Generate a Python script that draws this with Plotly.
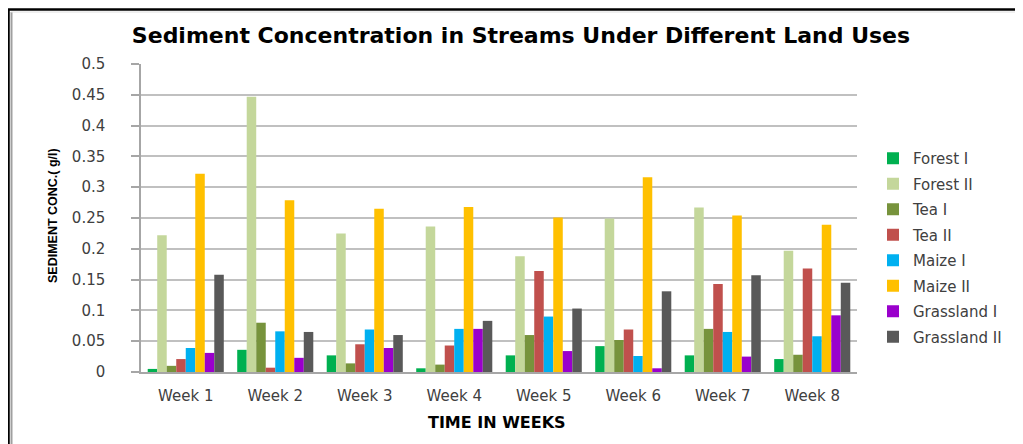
import plotly.graph_objects as go

weeks = ["Week 1", "Week 2", "Week 3", "Week 4", "Week 5", "Week 6", "Week 7", "Week 8"]
series_names = ["Forest I", "Forest II", "Tea I", "Tea II", "Maize I", "Maize II", "Grassland I", "Grassland II"]

forest_1 = [0.005, 0.036, 0.027, 0.006, 0.027, 0.042, 0.027, 0.021]
forest_2 = [0.222, 0.447, 0.225, 0.236, 0.188, 0.249, 0.267, 0.197]
tea_1 = [0.010, 0.080, 0.014, 0.012, 0.060, 0.052, 0.070, 0.028]
tea_2 = [0.021, 0.007, 0.045, 0.043, 0.164, 0.069, 0.143, 0.168]
maize_1 = [0.039, 0.066, 0.069, 0.070, 0.090, 0.026, 0.065, 0.058]
maize_2 = [0.322, 0.279, 0.265, 0.268, 0.251, 0.316, 0.254, 0.239]
grassland_1 = [0.031, 0.023, 0.039, 0.070, 0.034, 0.006, 0.025, 0.092]
grassland_2 = [0.158, 0.065, 0.060, 0.083, 0.103, 0.131, 0.157, 0.145]

series_values = [forest_1, forest_2, tea_1, tea_2, maize_1, maize_2, grassland_1, grassland_2]
colors = ["#00B050", "#C4D79B", "#77933C", "#C0504D", "#00B0F0", "#FFC000", "#9A00CC", "#595959"]

OFF = 8  # page body margin
W, H = 1023 - OFF, 444 - OFF
# plot area in page pixels
PL, PR, PT, PB = 141, 857, 64, 372
L, R, T, B = PL - OFF, PR - OFF, PT - OFF, PB - OFF

def px(x):  # page pixel -> paper
    return (x - PL) / (PR - PL)

def py(y):
    return (PB - y) / (PB - PT)

fig = go.Figure()
for i, (name, vals, col) in enumerate(zip(series_names, series_values, colors)):
    fig.add_trace(go.Bar(
        x=weeks, y=vals, name=name, marker=dict(color=col, line=dict(width=0)),
        legendgroup=f"g{i}",
    ))

tick_font = dict(family="DejaVu Sans", size=15, color="#404040")

fig.update_layout(
    width=W, height=H,
    margin=dict(l=L, r=W - R, t=T, b=H - B, pad=0, autoexpand=False),
    paper_bgcolor="white", plot_bgcolor="white",
    barmode="group", bargap=0.15, bargroupgap=0,
    showlegend=True,
    legend=dict(
        x=px(873), y=py(142), xanchor="left", yanchor="top",
        font=dict(family="DejaVu Sans", size=15, color="#404040"),
        traceorder="grouped", tracegroupgap=3,
        bgcolor="rgba(0,0,0,0)", itemwidth=30,
    ),
    title=dict(
        text="<b>Sediment Concentration in Streams Under Different Land Uses</b>",
        font=dict(family="DejaVu Sans", size=22, color="black"),
        x=(521 - OFF) / W, xanchor="center", y=1 - (35 - OFF) / H, yanchor="middle",
    ),
    xaxis=dict(
        showline=True, linecolor="#A6A6A6", linewidth=1.5,
        ticks="", tickfont=tick_font, ticklabelstandoff=9,
        showgrid=False, zeroline=False,
    ),
    yaxis=dict(
        range=[0, 0.5], dtick=0.05, tick0=0,
        showline=True, linecolor="#A6A6A6", linewidth=1.5,
        ticks="outside", ticklen=8, tickcolor="#A6A6A6", tickwidth=1.5,
        tickfont=tick_font, ticklabelstandoff=23,
        showgrid=True, gridcolor="#C0C0C0", gridwidth=1.5,
        zeroline=False,
    ),
    annotations=[
        dict(text="<b>TIME IN WEEKS</b>", xref="paper", yref="paper",
             x=px(497), y=py(422), xanchor="center", yanchor="middle",
             showarrow=False, font=dict(family="DejaVu Sans", size=16, color="black")),
        dict(text="<b>SEDIMENT CONC.( g/l)</b>", xref="paper", yref="paper",
             x=px(53), y=py(216), xanchor="center", yanchor="middle", textangle=-90,
             showarrow=False,
             font=dict(family="Liberation Sans", size=12.5, color="black")),
    ],
    shapes=[
        dict(type="line", xref="paper", yref="paper", x0=px(8.5), x1=px(8.5), y0=py(9), y1=py(450),
             line=dict(color="black", width=2.5)),
        dict(type="line", xref="paper", yref="paper", x0=px(7.5), x1=px(1030), y0=py(9.5), y1=py(9.5),
             line=dict(color="black", width=2.5)),
        dict(type="line", xref="paper", yref="paper", x0=px(11.5), x1=px(11.5), y0=py(12), y1=py(450),
             line=dict(color="#A0A0A0", width=2)),
        dict(type="line", xref="paper", yref="paper", x0=px(11), x1=px(1030), y0=py(12), y1=py(12),
             line=dict(color="#E0E0E0", width=1)),
    ],
)

fig.write_html("out.html")
